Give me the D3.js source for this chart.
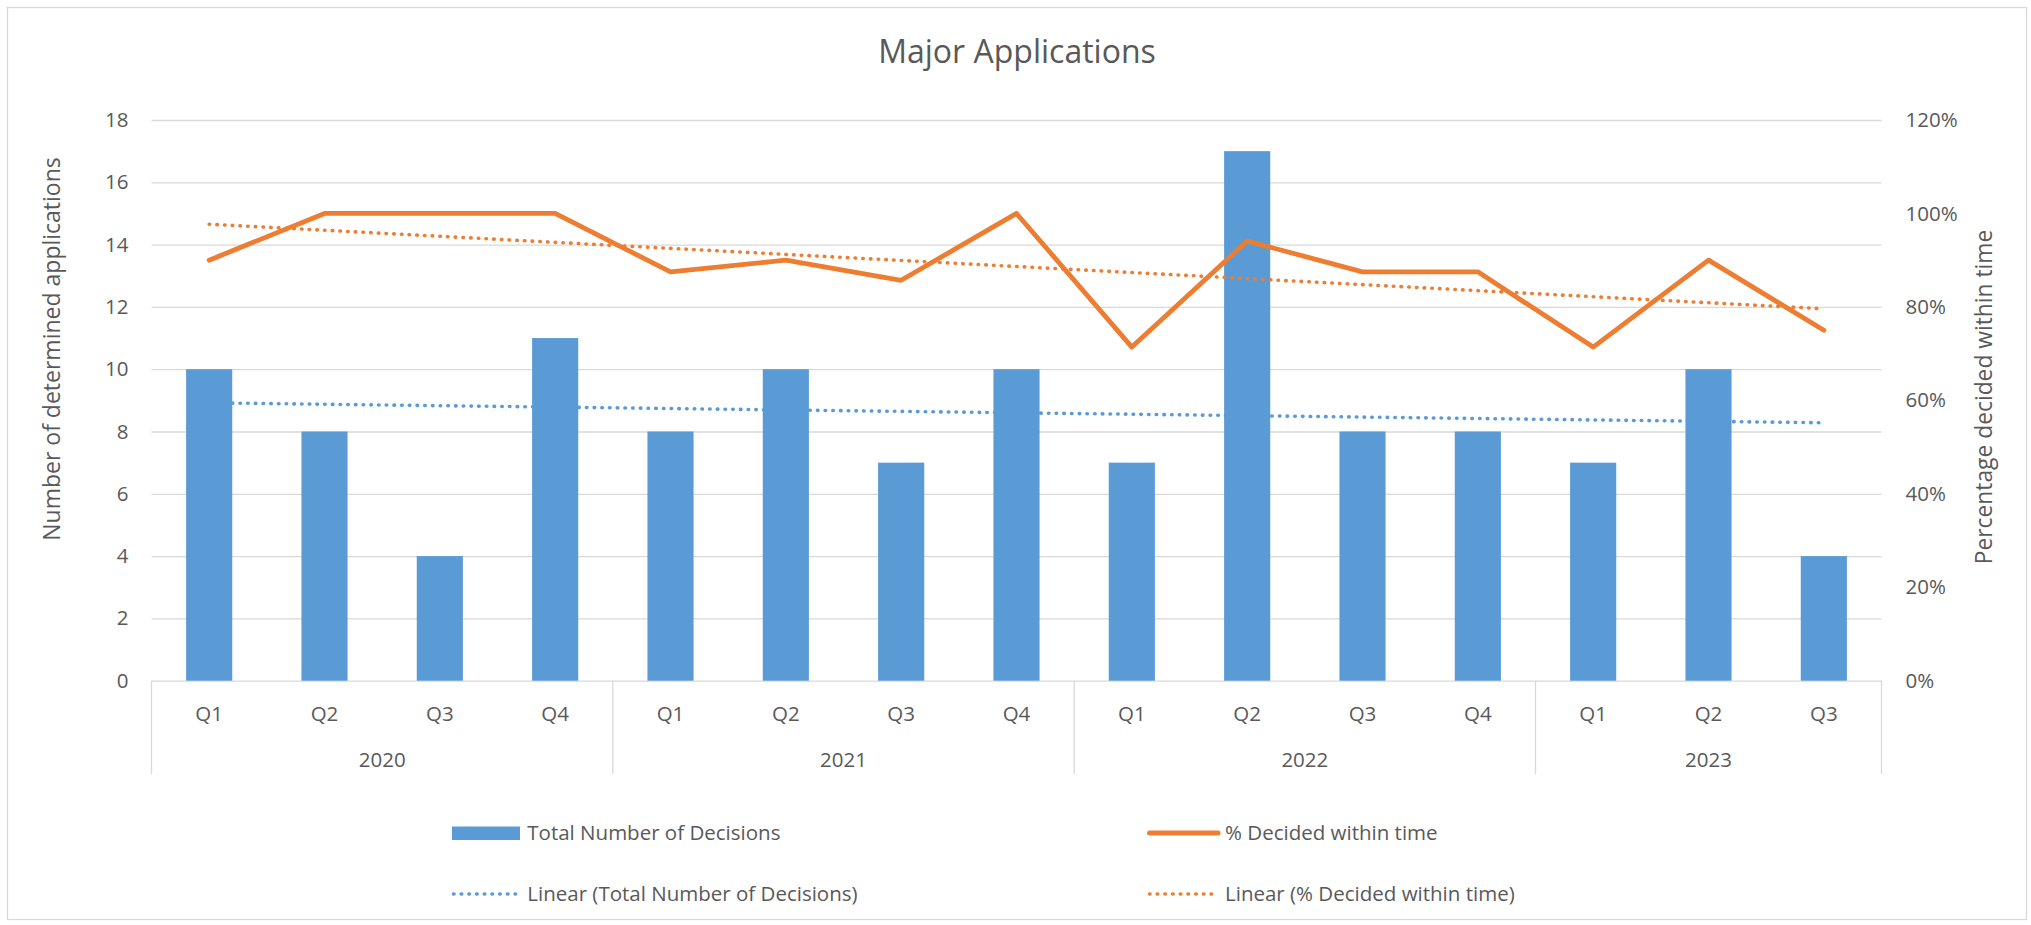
<!DOCTYPE html>
<html><head><meta charset="utf-8">
<script src="https://cdn.jsdelivr.net/npm/d3@7"></script>
<style>
body{margin:0;background:#fff}
svg{display:block}
text{font-family:'Open Sans',sans-serif;fill:#595959}
</style>
</head><body>
<svg id="chart" width="2031" height="925"></svg>
<script>
// ---------- data ----------
const years = ["2020", "2021", "2022", "2023"];
const quartersPerYear = [4, 4, 4, 3];
const quarters = ["Q1","Q2","Q3","Q4","Q1","Q2","Q3","Q4","Q1","Q2","Q3","Q4","Q1","Q2","Q3"];
const decisions = [10, 8, 4, 11, 8, 10, 7, 10, 7, 17, 8, 8, 7, 10, 4];
const pctInTime = [0.90, 1.00, 1.00, 1.00, 0.875, 0.90, 0.857, 1.00, 0.714, 0.941, 0.875, 0.875, 0.714, 0.90, 0.75];
const trendDecisions = [8.92, 8.28];   // linear trend, first & last quarter
const trendPct = [0.977, 0.796];       // linear trend, first & last quarter
const leftTicks = [0, 2, 4, 6, 8, 10, 12, 14, 16, 18];
const rightTicks = [0, 0.2, 0.4, 0.6, 0.8, 1.0, 1.2];
const seriesNames = ["Total Number of Decisions", "% Decided within time",
  "Linear (Total Number of Decisions)", "Linear (% Decided within time)"];
const chartTitle = "Major Applications";
const leftTitle = "Number of determined applications";
const rightTitle = "Percentage decided within time";

// ---------- layout ----------
const W = 2031, H = 925;
const plot = {x0: 151.5, x1: 1881.5, y0: 120, y1: 680.7};
const blue = "#5B9BD5", orange = "#ED7D31", grid = "#D9D9D9";
const svg = d3.select("#chart");

svg.append("rect").attr("x", 7.5).attr("y", 7.5).attr("width", 2019).attr("height", 912)
  .attr("fill", "#fff").attr("stroke", grid).attr("stroke-width", 1.3);

const idx = d3.range(quarters.length);
const x = d3.scaleBand().domain(idx).range([plot.x0, plot.x1]).paddingInner(0).paddingOuter(0);
const y = d3.scaleLinear().domain([0, 18]).range([plot.y1, plot.y0]);
const y2 = d3.scaleLinear().domain([0, 1.2]).range([plot.y1, plot.y0]);
const bw = x.bandwidth();
const cx = i => x(i) + bw / 2;

// gridlines
const gGrid = svg.append("g").attr("transform", `translate(${plot.x0},0)`)
  .call(d3.axisLeft(y).tickValues(leftTicks).tickSize(-(plot.x1 - plot.x0)).tickFormat(""));
gGrid.select(".domain").remove();
gGrid.selectAll("line").attr("stroke", grid).attr("stroke-width", 1.3);

// left tick labels
const gL = svg.append("g").attr("transform", `translate(${plot.x0},0)`)
  .call(d3.axisLeft(y).tickValues(leftTicks).tickSize(0).tickPadding(23).tickFormat(d3.format("d")));
gL.select(".domain").remove();
gL.selectAll("text").attr("font-size", 20.5).attr("fill", "#595959").attr("font-family", "'Open Sans',sans-serif");

// right tick labels
const gR = svg.append("g").attr("transform", `translate(${plot.x1},0)`)
  .call(d3.axisRight(y2).tickValues(rightTicks).tickSize(0).tickPadding(24).tickFormat(d3.format(".0%")));
gR.select(".domain").remove();
gR.selectAll("text").attr("font-size", 20.5).attr("fill", "#595959").attr("font-family", "'Open Sans',sans-serif");

// category axis separators
let acc = 0;
const bounds = [0];
quartersPerYear.forEach(n => { acc += n; bounds.push(acc); });
svg.append("g").selectAll("line").data(bounds).join("line")
  .attr("x1", d => d < idx.length ? x(d) : plot.x1)
  .attr("x2", d => d < idx.length ? x(d) : plot.x1)
  .attr("y1", plot.y1).attr("y2", 774)
  .attr("stroke", grid).attr("stroke-width", 1.3);

// quarter labels
svg.append("g").selectAll("text").data(idx).join("text")
  .attr("x", d => cx(d)).attr("y", 720.5).attr("text-anchor", "middle")
  .attr("font-size", 20.5).text(d => quarters[d]);

// year labels
svg.append("g").selectAll("text").data(years).join("text")
  .attr("x", (d, i) => {
    const a = bounds[i], b = bounds[i + 1];
    const left = x(a), right = b < idx.length ? x(b) : plot.x1;
    return (left + right) / 2;
  })
  .attr("y", 767).attr("text-anchor", "middle").attr("font-size", 20.5).text(d => d);

// blue trend (behind bars)
const dotted = "0.5 7.2";
svg.append("line")
  .attr("x1", cx(0)).attr("x2", cx(idx.length - 1))
  .attr("y1", y(trendDecisions[0])).attr("y2", y(trendDecisions[1]))
  .attr("stroke", blue).attr("stroke-width", 3.6).attr("stroke-linecap", "round")
  .attr("stroke-dasharray", dotted);

// bars
const barW = bw * 0.4;
svg.append("g").selectAll("rect").data(idx).join("rect")
  .attr("x", d => cx(d) - barW / 2).attr("width", barW)
  .attr("y", d => y(decisions[d])).attr("height", d => y(0) - y(decisions[d]))
  .attr("fill", blue);

// orange line
const line = d3.line().x(d => cx(d)).y(d => y2(pctInTime[d]));
svg.append("path").datum(idx).attr("d", line)
  .attr("fill", "none").attr("stroke", orange).attr("stroke-width", 4.8)
  .attr("stroke-linejoin", "round").attr("stroke-linecap", "round");

// orange trend
svg.append("line")
  .attr("x1", cx(0)).attr("x2", cx(idx.length - 1))
  .attr("y1", y2(trendPct[0])).attr("y2", y2(trendPct[1]))
  .attr("stroke", orange).attr("stroke-width", 3.6).attr("stroke-linecap", "round")
  .attr("stroke-dasharray", dotted);

// titles
svg.append("text").attr("x", 1017).attr("y", 63).attr("text-anchor", "middle")
  .attr("font-size", 32).text(chartTitle);
svg.append("text").attr("transform", "translate(59.5,349) rotate(-90)")
  .attr("text-anchor", "middle").attr("font-size", 23).text(leftTitle);
svg.append("text").attr("transform", "translate(1991.5,397) rotate(-90)")
  .attr("text-anchor", "middle").attr("font-size", 22.8).text(rightTitle);

// legend
const lg = svg.append("g");
lg.append("rect").attr("x", 452).attr("y", 826.5).attr("width", 68).attr("height", 13.5).attr("fill", blue);
lg.append("text").attr("x", 527.3).attr("y", 839.5).attr("font-size", 20.5).text(seriesNames[0]);
lg.append("line").attr("x1", 1149.5).attr("x2", 1218).attr("y1", 833).attr("y2", 833)
  .attr("stroke", orange).attr("stroke-width", 5).attr("stroke-linecap", "round");
lg.append("text").attr("x", 1225).attr("y", 839.5).attr("font-size", 20.5).text(seriesNames[1]);
lg.append("line").attr("x1", 453.5).attr("x2", 520).attr("y1", 894).attr("y2", 894)
  .attr("stroke", blue).attr("stroke-width", 3.6).attr("stroke-linecap", "round").attr("stroke-dasharray", dotted);
lg.append("text").attr("x", 527.3).attr("y", 900.7).attr("font-size", 20.5).text(seriesNames[2]);
lg.append("line").attr("x1", 1149.5).attr("x2", 1218).attr("y1", 894).attr("y2", 894)
  .attr("stroke", orange).attr("stroke-width", 3.6).attr("stroke-linecap", "round").attr("stroke-dasharray", dotted);
lg.append("text").attr("x", 1225).attr("y", 900.7).attr("font-size", 20.5).text(seriesNames[3]);
</script>
</body></html>
